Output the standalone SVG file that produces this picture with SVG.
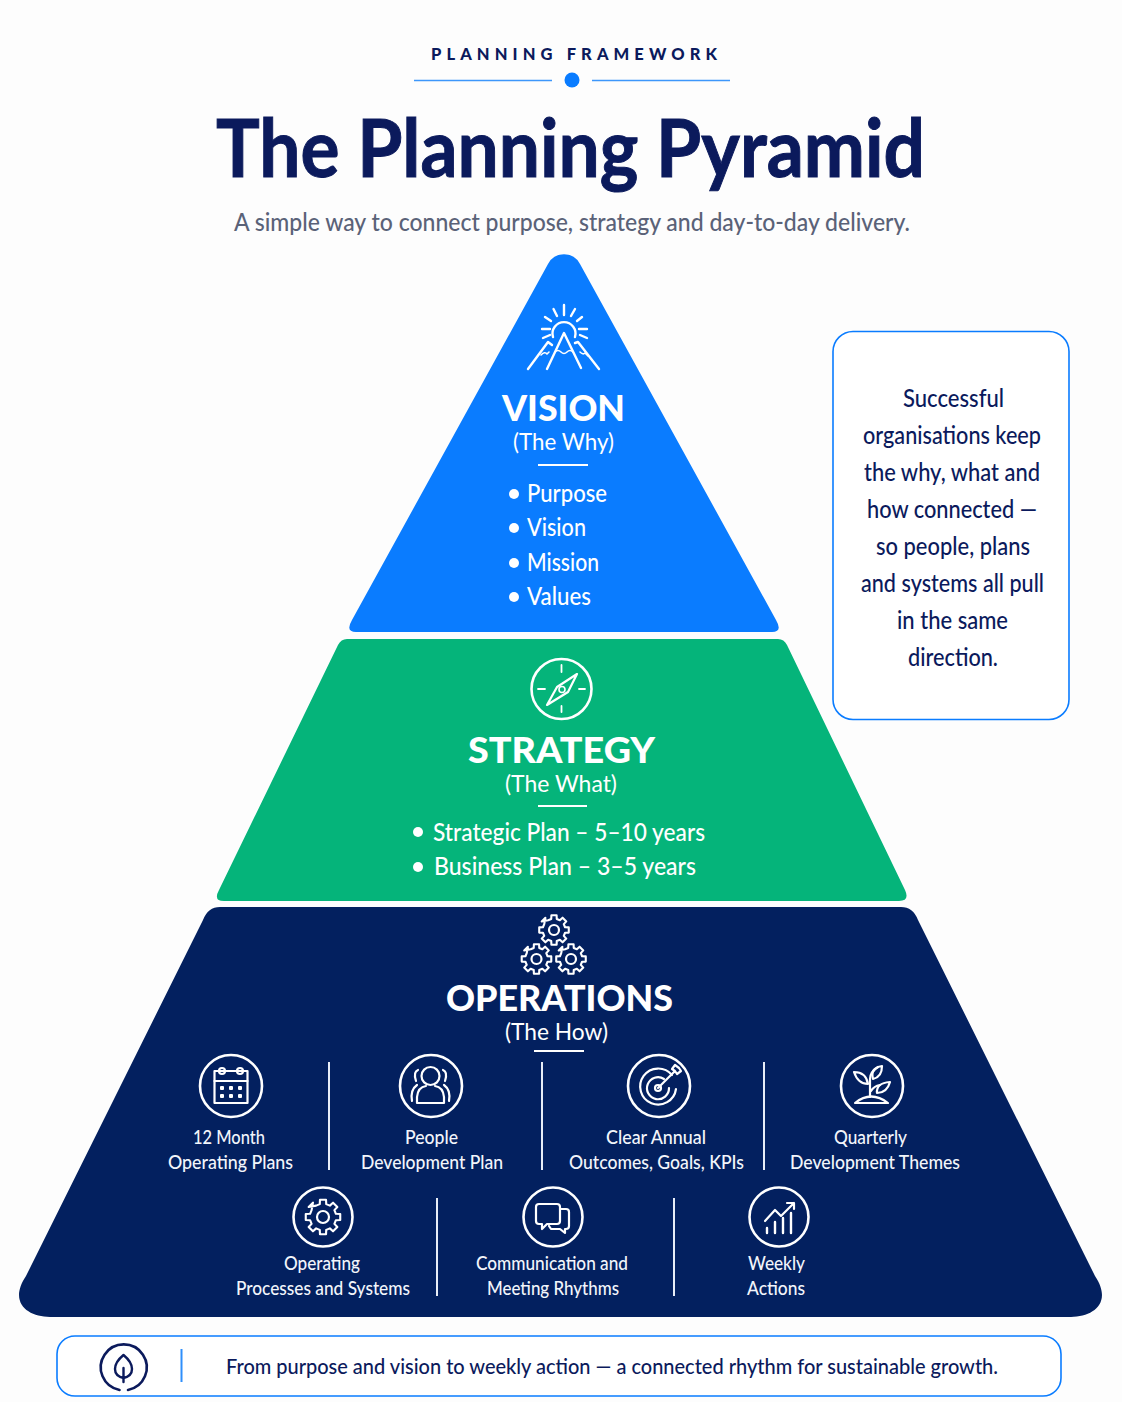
<svg xmlns="http://www.w3.org/2000/svg" width="1122" height="1402" viewBox="0 0 1122 1402">
<style>
text{font-family:"Lato","Inter","Liberation Sans",sans-serif}
.w{fill:#fff}
.c{text-anchor:middle}
.h{font-weight:900;font-size:36px;fill:#fff}
.s{font-weight:400;font-size:23px;fill:#fff}
.b{font-weight:500;font-size:24px;fill:#fff}
.l{font-weight:500;font-size:20px;fill:#f2f5fb}
.n{font-weight:500;font-size:24px;fill:#0b1a5c}
.i{fill:none;stroke:#fff;stroke-width:2.2;stroke-linecap:round;stroke-linejoin:round}
.r{fill:none;stroke:#fff;stroke-width:2.6}
.sep{stroke:#e8edf7;stroke-width:2}
.rule{stroke:#fff;stroke-width:2}
.frame{fill:#fff;stroke:#0a7cff;stroke-width:1.6}
</style>
<defs>
<polygon id="gear" points="-1.84,-7.37 -1.74,-9.85 1.74,-9.85 1.84,-7.37 3.91,-6.51 5.73,-8.2 8.2,-5.73 6.51,-3.91 7.37,-1.84 9.85,-1.74 9.85,1.74 7.37,1.84 6.51,3.91 8.2,5.73 5.73,8.2 3.91,6.51 1.84,7.37 1.74,9.85 -1.74,9.85 -1.84,7.37 -3.91,6.51 -5.73,8.2 -8.2,5.73 -6.51,3.91 -7.37,1.84 -9.85,1.74 -9.85,-1.74 -7.37,-1.84 -6.51,-3.91 -5.73,-8.2 -8.2,-5.73 -3.91,-6.51" />
</defs>
<rect width="1122" height="1402" fill="#fdfdfd"/>

<g id="header">
<text x="574" y="60" class="c" font-size="16.500" font-weight="900" fill="#0b1a5c" textLength="286" lengthAdjust="spacing">PLANNING FRAMEWORK</text>
<path d="M414 80.500H552M592 80.500H730" stroke="#3d97fb" stroke-width="1.600" fill="none"/>
<circle cx="572" cy="80" r="7.500" fill="#0a7cff"/>
<text x="570.500" y="177" class="c" font-size="81" font-weight="700" fill="#0b1a5c" stroke="#0b1a5c" stroke-width="1" textLength="709" lengthAdjust="spacingAndGlyphs">The Planning Pyramid</text>
<text x="572" y="231" class="c" font-size="24" font-weight="500" fill="#5a6278" textLength="676" lengthAdjust="spacingAndGlyphs">A simple way to connect purpose, strategy and day-to-day delivery.</text>
</g>

<g id="vision">
<path d="M548 264A18 18 0 0 1 580 264L776 620Q783 632 772 632L356 632Q345 632 352 620Z" fill="#0a7cff"/>
<g class="i" style="stroke-width:2.400">
<path d="M553 337A11.500 11.500 0 1 1 575 337"/>
<path d="M564 305V315M553.500 309L557 316M575 309L571 316M545 317L551 321M582 317L577 321M542 329H550M579 329H587M543 338L550 335M587 338L580 335"/>
<path d="M547 369L564 333L581 368"/>
<path d="M528 369L548 342L552 345M575 343L578 342L599 369"/>
<path d="M555 352Q558 349 561 352T567 352T573 352" style="stroke-width:1.600"/>
<path d="M541 355Q545 351 547 354L549 352M580 352Q583 355 585 353L588 356" style="stroke-width:1.600"/>
</g>
<text x="563.500" y="421" class="h c" textLength="123" lengthAdjust="spacingAndGlyphs">VISION</text>
<text x="563.500" y="450" class="s c" textLength="101" lengthAdjust="spacingAndGlyphs">(The Why)</text>
<path d="M538 465H588" class="rule"/>
<g class="w"><circle cx="514" cy="494" r="5"/><circle cx="514" cy="528" r="5"/><circle cx="514" cy="563" r="5"/><circle cx="514" cy="597" r="5"/></g>
<text x="527" y="502" class="b" textLength="80" lengthAdjust="spacingAndGlyphs">Purpose</text>
<text x="527" y="536" class="b" textLength="59" lengthAdjust="spacingAndGlyphs">Vision</text>
<text x="527" y="571" class="b" textLength="72" lengthAdjust="spacingAndGlyphs">Mission</text>
<text x="527" y="605" class="b" textLength="64" lengthAdjust="spacingAndGlyphs">Values</text>
</g>

<g id="strategy">
<path d="M347 639L778 639Q784 639 787 645L905 890Q910 901 899 901L224 901Q213 901 219 890L338 645Q341 639 347 639Z" fill="#05b47a"/>
<circle cx="561.500" cy="689" r="30" class="r"/>
<path d="M561.500 665V672M561.500 706V712M538 689H545M579 689H585" class="i" style="stroke-width:1.800"/>
<path d="M577 674L557 687L547 705L568 692Z" class="i"/>
<circle cx="562" cy="689.500" r="3" class="i" style="stroke-width:1.600"/>
<text x="561.500" y="763" class="h c" textLength="187" lengthAdjust="spacingAndGlyphs">STRATEGY</text>
<text x="561" y="792" class="s c" textLength="112" lengthAdjust="spacingAndGlyphs">(The What)</text>
<path d="M538 806H587" class="rule"/>
<circle cx="418" cy="832" r="5" class="w"/><circle cx="418" cy="867" r="5" class="w"/>
<text x="433" y="841" class="b" textLength="272" lengthAdjust="spacingAndGlyphs">Strategic Plan – 5–10 years</text>
<text x="434" y="875" class="b" textLength="262" lengthAdjust="spacingAndGlyphs">Business Plan – 3–5 years</text>
</g>

<g id="operations">
<path d="M220 907L901 907Q913 907 918 920L1095 1276C1113 1303 1093 1317 1071 1317L50 1317C28 1317 8 1303 26 1276L203 920Q208 907 220 907Z" fill="#03205f"/>
<g class="i">
<use href="#gear" transform="translate(554 930) scale(1.500)" style="stroke-width:1.400"/>
<use href="#gear" transform="translate(536.500 959) scale(1.500)" style="stroke-width:1.400"/>
<use href="#gear" transform="translate(571 959) scale(1.500)" style="stroke-width:1.400"/>
<circle cx="554" cy="930" r="5"/><circle cx="536.500" cy="959" r="5"/><circle cx="571" cy="959" r="5"/>
</g>
<text x="559.500" y="1011" class="h c" textLength="227" lengthAdjust="spacingAndGlyphs">OPERATIONS</text>
<text x="556.500" y="1040" class="s c" textLength="103" lengthAdjust="spacingAndGlyphs">(The How)</text>
<path d="M534 1051H584" class="rule"/>
<path d="M329 1062V1170M542 1062V1170M764 1062V1170M437 1198V1296M674 1198V1296" class="sep"/>
</g>

<g id="item-12-month">
<circle cx="231" cy="1086" r="31" class="r"/>
<g class="i"><path d="M214.500 1071H247.500V1103H214.500Z"/><path d="M214.500 1081H247.500"/><circle cx="222" cy="1071" r="3"/><circle cx="240" cy="1071" r="3"/></g>
<g class="w"><rect x="220" y="1086" width="4" height="4" rx="1"/><rect x="229" y="1086" width="4" height="4" rx="1"/><rect x="238" y="1086" width="4" height="4" rx="1"/><rect x="220" y="1094" width="4" height="4" rx="1"/><rect x="229" y="1094" width="4" height="4" rx="1"/><rect x="238" y="1094" width="4" height="4" rx="1"/></g>
<text x="229" y="1144" class="l c" textLength="72" lengthAdjust="spacingAndGlyphs">12 Month</text>
<text x="230.500" y="1169" class="l c" textLength="125" lengthAdjust="spacingAndGlyphs">Operating Plans</text>
</g>
<g id="item-people">
<circle cx="431" cy="1086" r="31" class="r"/>
<g class="i"><circle cx="430.500" cy="1076" r="9"/><path d="M417 1103V1097Q418 1087 426 1086M444 1103V1097Q443 1087 435 1086M417 1103H444"/><path d="M418 1070Q413 1072 416 1081M443 1070Q448 1072 445 1081M412 1101Q410 1090 417 1085M449 1101Q451 1090 444 1085"/></g>
<text x="431.500" y="1144" class="l c" textLength="53" lengthAdjust="spacingAndGlyphs">People</text>
<text x="432" y="1169" class="l c" textLength="142" lengthAdjust="spacingAndGlyphs">Development Plan</text>
</g>
<g id="item-outcomes">
<circle cx="659" cy="1086" r="31" class="r"/>
<g class="i"><path d="M672 1075A18 18 0 1 0 676 1089"/><path d="M664 1079A11 11 0 1 0 669 1088"/><circle cx="658" cy="1088" r="3"/><path d="M658 1088L675 1071M675 1071L672 1069L675 1065L679 1068M675 1071L677 1074L681 1071L679 1068"/></g>
<text x="656" y="1144" class="l c" textLength="100" lengthAdjust="spacingAndGlyphs">Clear Annual</text>
<text x="656.500" y="1169" class="l c" textLength="175" lengthAdjust="spacingAndGlyphs">Outcomes, Goals, KPIs</text>
</g>
<g id="item-quarterly">
<circle cx="872" cy="1086" r="31" class="r"/>
<g class="i"><path d="M855 1103Q871 1090 888 1103Z"/><path d="M870 1097V1079Q870 1072 878 1067M871 1091Q874 1086 880 1085"/><path d="M882 1066Q882 1077 873 1079Q870 1068 882 1066Z"/><path d="M890 1082Q887 1093 877 1093Q876 1083 890 1082Z"/><path d="M854 1072Q866 1072 868 1084Q858 1084 854 1072Z"/></g>
<text x="870.500" y="1144" class="l c" textLength="73" lengthAdjust="spacingAndGlyphs">Quarterly</text>
<text x="875" y="1169" class="l c" textLength="170" lengthAdjust="spacingAndGlyphs">Development Themes</text>
</g>
<g id="item-operating">
<circle cx="323" cy="1217" r="29.500" class="r"/>
<use href="#gear" transform="translate(323 1217) scale(1.750)" class="i" style="stroke-width:1.200"/>
<circle cx="323" cy="1217" r="6" class="i"/>
<text x="322" y="1270" class="l c" textLength="76" lengthAdjust="spacingAndGlyphs">Operating</text>
<text x="323" y="1295" class="l c" textLength="174" lengthAdjust="spacingAndGlyphs">Processes and Systems</text>
</g>
<g id="item-communication">
<circle cx="553" cy="1217" r="29.500" class="r"/>
<g class="i"><path d="M539 1204H557Q560 1204 560 1207V1221Q560 1224 557 1224H547L542 1229V1224H539Q536 1224 536 1221V1207Q536 1204 539 1204Z"/><path d="M560 1209H566Q569 1209 569 1212V1226Q569 1229 566 1229H565V1233L560 1229H551L549 1226"/></g>
<text x="552" y="1270" class="l c" textLength="152" lengthAdjust="spacingAndGlyphs">Communication and</text>
<text x="553" y="1295" class="l c" textLength="132" lengthAdjust="spacingAndGlyphs">Meeting Rhythms</text>
</g>
<g id="item-weekly">
<circle cx="779" cy="1217" r="29.500" class="r"/>
<g class="i"><path d="M765 1221L775 1210L781 1216L794 1203M787 1203H794V1209"/><path d="M767 1233V1228M775 1233V1222M783 1233V1218M791 1233V1213" style="stroke-width:2.400"/></g>
<text x="776.500" y="1270" class="l c" textLength="57" lengthAdjust="spacingAndGlyphs">Weekly</text>
<text x="776" y="1295" class="l c" textLength="58" lengthAdjust="spacingAndGlyphs">Actions</text>
</g>

<g id="callout">
<rect x="833" y="331.500" width="236" height="388" rx="20" class="frame"/>
<text x="953.500" y="407" class="n c" textLength="101" lengthAdjust="spacingAndGlyphs">Successful</text>
<text x="952" y="444" class="n c" textLength="178" lengthAdjust="spacingAndGlyphs">organisations keep</text>
<text x="952" y="481" class="n c" textLength="176" lengthAdjust="spacingAndGlyphs">the why, what and</text>
<text x="952" y="518" class="n c" textLength="170" lengthAdjust="spacingAndGlyphs">how connected —</text>
<text x="953" y="555" class="n c" textLength="154" lengthAdjust="spacingAndGlyphs">so people, plans</text>
<text x="952.500" y="592" class="n c" textLength="183" lengthAdjust="spacingAndGlyphs">and systems all pull</text>
<text x="952.500" y="629" class="n c" textLength="111" lengthAdjust="spacingAndGlyphs">in the same</text>
<text x="953" y="666" class="n c" textLength="90" lengthAdjust="spacingAndGlyphs">direction.</text>
</g>

<g id="footer">
<rect x="57" y="1336" width="1004" height="60" rx="18" class="frame"/>
<path d="M119.500 1390A23 23 0 1 1 128 1390" fill="none" stroke="#0b1a5c" stroke-width="2.600" stroke-linecap="round"/>
<path d="M123.500 1355Q132 1362 132 1369Q132 1376 123.500 1378Q115 1376 115 1369Q115 1362 123.500 1355ZM123.500 1368V1382" fill="none" stroke="#0b1a5c" stroke-width="2.400" stroke-linecap="round" stroke-linejoin="round"/>
<path d="M181.500 1349V1382" stroke="#2f8ffb" stroke-width="2"/>
<text x="226" y="1374" font-size="21" font-weight="500" fill="#0b1a5c" textLength="772" lengthAdjust="spacingAndGlyphs">From purpose and vision to weekly action — a connected rhythm for sustainable growth.</text>
</g>
</svg>
